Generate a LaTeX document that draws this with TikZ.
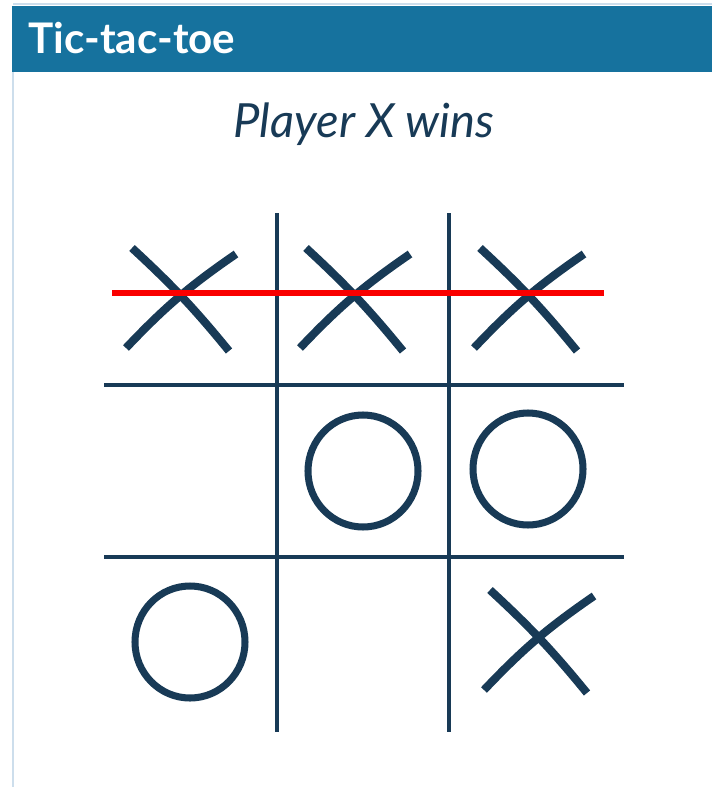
\documentclass[tikz,border=0pt]{standalone}
\usepackage{fontspec}
\setmainfont{Lato}
\usetikzlibrary{positioning,calc}
\definecolor{HeadBlue}{RGB}{22,114,158}
\definecolor{EdgeBlue}{RGB}{205,222,236}
\definecolor{InkNavy}{RGB}{24,58,86}
\definecolor{WinRed}{RGB}{250,0,0}

\begin{document}
\begin{tikzpicture}[
    x=0.02cm, y=-0.02cm,
    headbar/.style={
        fill=HeadBlue,
        draw=none
    },
    headtext/.style={
        text=white,
        font=\bfseries\fontsize{24}{28}\selectfont,
        anchor=west,
        inner sep=0pt
    },
    subtitle/.style={
        text=InkNavy,
        font=\itshape\fontsize{26.8}{30}\selectfont,
        inner sep=0pt
    },
    gridline/.style={
        draw=InkNavy,
        line width=1.8pt
    },
    winline/.style={
        draw=WinRed,
        line width=3.4pt
    },
    xmark/.pic={
        \draw[draw=InkNavy, line width=4.6pt]
            (-47,-48) to[bend left=4] (50,55)
            (57,-42) to[bend right=6] (-53,52);
    },
    omark/.pic={
        \draw[draw=InkNavy, line width=4pt] (0,0) circle[x radius=55, y radius=56];
    }
]

\useasboundingbox (0,0) rectangle (712,787);

% =========================
% frame and header
% =========================
\draw[EdgeBlue, line width=1.2pt] (13,4) -- (712,4);
\draw[EdgeBlue, line width=1.2pt] (13,72) -- (13,787);
\fill[headbar] (12,6) rectangle (712,72);
\node[headtext] (title) at (28,38) {Tic-tac-toe};

\node[subtitle] (result) at (364,124) {Player X wins};

% =========================
% board
% =========================
\coordinate (v1top) at (277,213);
\coordinate (v1bot) at (277,732);
\coordinate (v2top) at (449,213);
\coordinate (v2bot) at (449,732);
\coordinate (h1lft) at (104,385);
\coordinate (h1rgt) at (624,385);
\coordinate (h2lft) at (104,557);
\coordinate (h2rgt) at (624,557);

\draw[gridline] (v1top) -- (v1bot);
\draw[gridline] (v2top) -- (v2bot);
\draw[gridline] (h1lft) -- (h1rgt);
\draw[gridline] (h2lft) -- (h2rgt);

% =========================
% marks
% =========================
\pic at (179,296) {xmark};
\pic at (353,296) {xmark};
\pic at (527,296) {xmark};
\pic at (537,638) {xmark};

\pic at (363,471) {omark};
\pic at (528,469) {omark};
\pic at (190,642) {omark};

% winning row
\coordinate (winstart) at (112,293);
\coordinate (winend) at (604,293);
\draw[winline] (winstart) -- (winend);

\end{tikzpicture}
\end{document}
